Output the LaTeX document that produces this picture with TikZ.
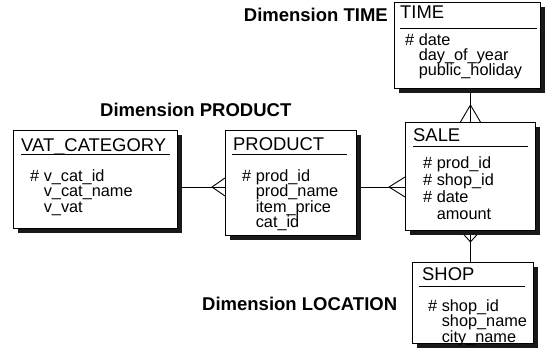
\documentclass[tikz,border=0pt]{standalone}
\usepackage{fontspec}
\setmainfont{Liberation Sans}
\usetikzlibrary{shadows,backgrounds}
\begin{document}
\begin{tikzpicture}[x=1pt,y=-1pt,
  entity/.style={draw, line width=0.9pt, fill=white, anchor=north west, inner sep=0pt,
    drop shadow={shadow xshift=4.5pt, shadow yshift=-4.5pt, fill=black!90, opacity=1}},
  etitle/.style={anchor=base west, inner sep=0pt, font=\fontsize{18.4}{20}\selectfont},
  eattr/.style={anchor=base west, inner sep=0pt, align=left, font=\fontsize{16.3}{15.4}\selectfont},
  dimlabel/.style={inner sep=0pt, font=\fontsize{18.5}{20}\selectfont\bfseries},
  titlerule/.style={line width=1pt},
  rel/.style={line width=0.9pt},
]
\useasboundingbox (0,0) rectangle (545,356);

% entities
\node[entity, minimum width=146pt, minimum height=86pt] (time) at (394,2) {};
\node[entity, minimum width=164pt, minimum height=98pt] (vat) at (13,130) {};
\node[entity, minimum width=131pt, minimum height=105pt] (product) at (225,130) {};
\node[entity, minimum width=130pt, minimum height=108pt] (sale) at (405,122) {};
\node[entity, minimum width=121pt, minimum height=81pt] (shop) at (412,262) {};

% titles and rules
\node[etitle] (timet) at (400,18.5) {TIME};
\draw[titlerule] (400,28) -- (537,28);
\node[etitle] (vatt) at (21,151.5) {VAT\_CATEGORY};
\draw[titlerule] (21,154) -- (170,154);
\node[etitle] (productt) at (233,150) {PRODUCT};
\draw[titlerule] (232,154) -- (347,154);
\node[etitle] (salet) at (413,141) {SALE};
\draw[titlerule] (413,146) -- (528,146);
\node[etitle] (shopt) at (422,280.5) {SHOP};
\draw[titlerule] (419,286) -- (525,286);

% attributes (anchor = baseline of the last line)
\node[eattr] (timea) at (405,75.8) {\# date\\\phantom{\# }day\_of\_year\\\phantom{\# }public\_holiday};
\node[eattr] (vata) at (30,212.3) {\# v\_cat\_id\\\phantom{\# }v\_cat\_name\\\phantom{\# }v\_vat};
\node[eattr] (producta) at (242,227.7) {\# prod\_id\\\phantom{\# }prod\_name\\\phantom{\# }item\_price\\\phantom{\# }cat\_id};
\node[eattr, font=\fontsize{16.3}{17}\selectfont] (salea) at (423,219.3) {\# prod\_id\\\# shop\_id\\\# date\\\phantom{\# }amount};
\node[eattr] (shopa) at (428,342.3) {\# shop\_id\\\phantom{\# }shop\_name\\\phantom{\# }city\_name};

% dimension labels
\node[dimlabel, anchor=base east] (dtime) at (388,21.7) {Dimension TIME};
\node[dimlabel, anchor=base west] (dproduct) at (100,116.7) {Dimension PRODUCT};
\node[dimlabel, anchor=base west] (dlocation) at (202,310.7) {Dimension LOCATION};

% relationships
\begin{scope}[on background layer]
  \coordinate (ps) at (380,187);
  \coordinate (psend) at (sale.west |- ps);
  \coordinate (vpend) at (product.west |- ps);
  % TIME - SALE
  \draw[rel] (time.south -| sale.north) -- (sale.north);
  \draw[rel] ([yshift=17pt]sale.north) -- ([xshift=-10pt]sale.north)
             ([yshift=17pt]sale.north) -- ([xshift=10pt]sale.north);
  % SALE - SHOP
  \draw[rel] (sale.south) -- (sale.south |- shop.north);
  \draw[rel] ([yshift=-11pt]sale.south) -- ([xshift=-10pt]sale.south)
             ([yshift=-11pt]sale.south) -- ([xshift=10pt]sale.south);
  % PRODUCT - SALE
  \draw[rel] (product.east |- ps) -- (psend);
  \draw[rel] ([xshift=-16pt]psend) -- ([yshift=10pt]psend)
             ([xshift=-16pt]psend) -- ([yshift=-10pt]psend);
  % VAT_CATEGORY - PRODUCT
  \draw[rel] (vat.east |- ps) -- (vpend);
  \draw[rel] ([xshift=-13pt]vpend) -- ([yshift=9pt]vpend)
             ([xshift=-13pt]vpend) -- ([yshift=-9pt]vpend);
\end{scope}
\end{tikzpicture}
\end{document}
